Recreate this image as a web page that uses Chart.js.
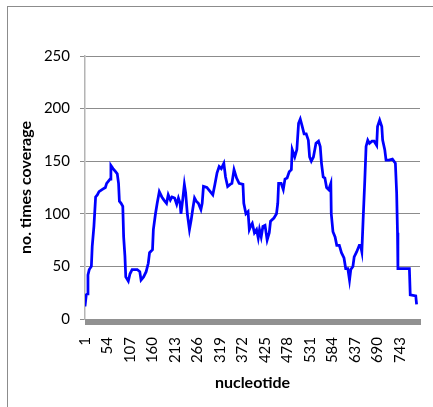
<!DOCTYPE html>
<html>
<head>
<meta charset="utf-8">
<script src="https://cdn.jsdelivr.net/npm/chart.js@4/dist/chart.umd.min.js"></script>
<style>
  html, body { margin: 0; padding: 0; background: #fff; overflow: hidden; }
  #frame { position: absolute; left: 7px; top: 6px; width: 500px; height: 500px;
           border-left: 1px solid #8c8c8c; border-top: 1px solid #8c8c8c; }
  #chart { position: absolute; left: 0; top: 0; }
</style>
</head>
<body>
<div id="frame"></div>
<canvas id="chart" width="450" height="407"></canvas>
<script>
// coverage per nucleotide
const nucleotides = [
  1, 4, 7, 8, 11, 16, 18, 22, 26, 30, 34, 41, 49, 52, 60, 62, 67, 73, 77, 80,
  82, 86, 90, 92, 95, 97, 103, 107, 112, 118, 124, 130, 133, 139, 145, 150, 153, 160, 162, 167,
  171, 176, 182, 187, 193, 197, 202, 206, 212, 217, 221, 225, 227, 231, 235, 238, 242, 247, 251, 255,
  259, 263, 268, 274, 277, 280, 288, 296, 302, 307, 312, 317, 322, 328, 332, 337, 343, 347, 352, 358,
  364, 373, 375, 380, 385, 388, 392, 395, 400, 405, 409, 412, 416, 420, 425, 430, 435, 438, 446, 452,
  455, 457, 463, 468, 472, 477, 482, 487, 489, 495, 500, 504, 508, 512, 517, 522, 527, 530, 534, 539,
  545, 551, 555, 558, 562, 566, 570, 575, 580, 581, 585, 590, 594, 600, 605, 611, 615, 620, 624, 627,
  632, 635, 641, 647, 650, 653, 656, 660, 663, 667, 671, 677, 682, 688, 690, 695, 700, 702, 707, 710,
  717, 725, 732, 735, 737, 738, 765, 767, 780, 782
];
const coverage = [
  12, 23, 24, 42, 47, 50, 69, 88, 116, 118, 121, 123, 125, 129, 133, 146, 143, 140, 138, 129,
  112, 110, 107, 78, 60, 40, 36, 43, 47, 47, 47, 45, 37, 40, 45, 53, 63, 66, 85, 100,
  110, 121, 116, 113, 110, 118, 113, 116, 115, 109, 115, 110, 100, 113, 128, 120, 100, 85, 94, 105,
  115, 112, 110, 104, 110, 126, 125, 121, 118, 128, 139, 145, 143, 148, 135, 126, 128, 129, 142, 134,
  129, 128, 110, 100, 102, 85, 89, 91, 82, 85, 77, 85, 78, 88, 89, 75, 82, 93, 96, 100,
  110, 129, 129, 123, 133, 134, 140, 142, 161, 154, 161, 186, 190, 184, 176, 176, 170, 154, 150, 154,
  167, 169, 164, 148, 135, 134, 125, 123, 129, 100, 83, 78, 70, 70, 63, 58, 48, 48, 37, 47,
  50, 59, 64, 70, 70, 64, 94, 132, 164, 170, 167, 169, 169, 165, 183, 189, 183, 170, 161, 151,
  151, 152, 148, 120, 82, 48, 48, 23, 22, 14
];
const xFirst = 1;
const xLast = 790;
const labelStep = 53;
const yTicks = [0, 50, 100, 150, 200, 250];

const FONT = 'Lato, "Open Sans", sans-serif';

const points = nucleotides.map((n, i) => ({ x: n, y: coverage[i] }));

// one small tick per nucleotide under the axis (Excel category ticks)
const categoryTicks = {
  id: 'categoryTicks',
  afterDraw(chart) {
    const ctx = chart.ctx;
    const x = chart.scales.x;
    const top = chart.chartArea.bottom;
    const left = x.getPixelForValue(xFirst);
    ctx.save();
    ctx.fillStyle = '#b4b4b4';
    ctx.fillRect(left, top, x.getPixelForValue(xLast) - left, 6);
    ctx.fillStyle = '#919191';
    for (let n = xFirst; n <= xLast; n += 2) {
      ctx.fillRect(Math.round(x.getPixelForValue(n)), top, 1, 6);
    }
    ctx.restore();
  },
};

new Chart(document.getElementById('chart'), {
  type: 'line',
  data: {
    datasets: [{
      data: points,
      borderColor: '#0000ff',
      borderWidth: 2.75,
      pointRadius: 0,
      tension: 0,
      fill: false,
    }],
  },
  options: {
    responsive: false,
    animation: false,
    layout: { padding: { left: 16, top: 56, right: 13, bottom: 15 } },
    plugins: { legend: { display: false }, tooltip: { enabled: false } },
    scales: {
      x: {
        type: 'linear',
        min: xFirst,
        max: xLast,
        afterFit: s => { s.height = 73; },
        ticks: {
          stepSize: 1,
          autoSkip: false,
          minRotation: 90,
          maxRotation: 90,
          padding: 12,
          color: '#000',
          font: { family: FONT, size: 15 },
          callback: v => ((v - xFirst) % labelStep === 0 ? String(v) : ''),
        },
        grid: { drawOnChartArea: false, color: '#9a9a9a', tickLength: 6, lineWidth: 1 },
        border: { color: '#9a9a9a' },
        title: {
          display: true,
          text: 'nucleotide',
          color: '#000',
          padding: 0,
          font: { family: FONT, size: 16, weight: 'bold' },
        },
      },
      y: {
        min: 0,
        max: 250,
        afterFit: s => { s.width = 69; },
        afterBuildTicks: s => { s.ticks = yTicks.map(v => ({ value: v })); },
        ticks: {
          padding: 10,
          color: '#000',
          font: { family: FONT, size: 15 },
        },
        grid: { color: '#8c8c8c', tickLength: 5, lineWidth: 1 },
        border: { color: '#b4b4b4', width: 1.5 },
        title: {
          display: true,
          text: 'no. times coverage',
          color: '#000',
          padding: 0,
          font: { family: FONT, size: 16, weight: 'bold' },
        },
      },
    },
  },
  plugins: [categoryTicks],
});
</script>
</body>
</html>
